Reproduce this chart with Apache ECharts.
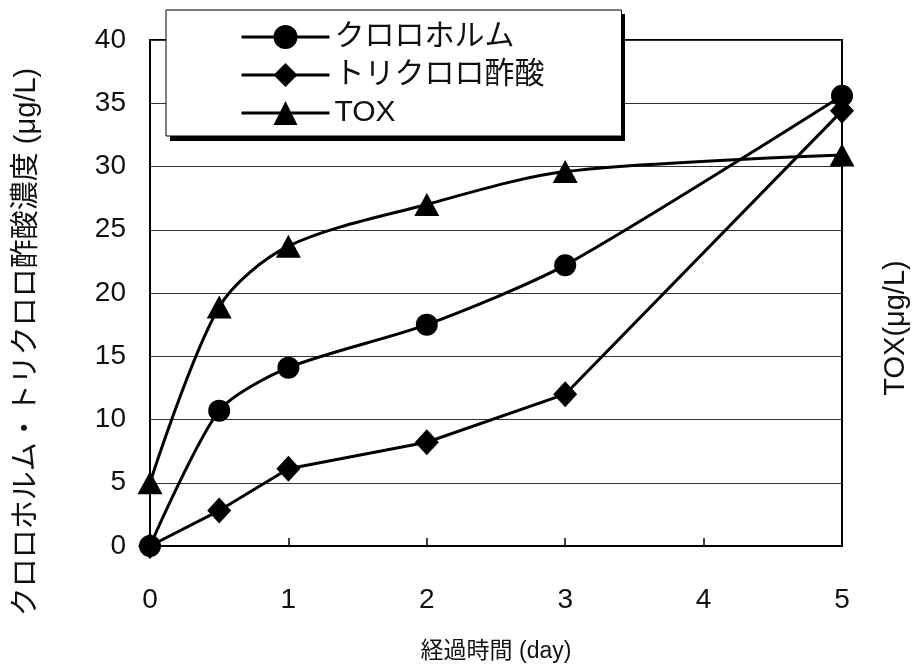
<!DOCTYPE html>
<html><head><meta charset="utf-8">
<script src="https://cdn.jsdelivr.net/npm/echarts@6/dist/echarts.min.js"></script>
<style>html,body{margin:0;padding:0;background:#fff}#c{width:912px;height:667px}</style>
</head><body><div id="c"></div>
<script>
var days = [0, 0.5, 1, 2, 3, 5];
var chloroform = [0, 10.7, 14.1, 17.5, 22.2, 35.6];
var tca = [0, 2.8, 6.1, 8.2, 12.0, 34.4];
var tox = [5.0, 18.9, 23.7, 27.0, 29.6, 30.9];
var seriesNames = ['クロロホルム', 'トリクロロ酢酸', 'TOX'];
var xTitle = '経過時間 (day)';
var yTitle = 'クロロホルム・トリクロロ酢酸濃度 (μg/L)';
var y2Title = 'TOX(μg/L)';

function pairs(ys){ return days.map(function(d,i){ return [d, ys[i]]; }); }
var font = "'Liberation Sans', Arial, 'Noto Sans CJK JP', sans-serif";
var txt = '#111';
var chart = echarts.init(document.getElementById('c'));
chart.setOption({
  animation: false,
  textStyle: { fontFamily: font, color: txt },
  grid: { left: 150, right: 70, top: 40, bottom: 121, outerBoundsMode: 'none', containLabel: false,
          show: true, borderColor: '#000', borderWidth: 2, backgroundColor: 'transparent' },
  graphic: [{
    type: 'rect', z: 3, silent: true,
    shape: { x: 170, y: 14, width: 455, height: 127 },
    style: { fill: '#000' }
  }],
  legend: {
    orient: 'vertical', left: 166, top: 10, z: 4,
    backgroundColor: '#fff', borderColor: '#000', borderWidth: 1,
    padding: [11, 77, 7, 74],
    itemWidth: 88, itemHeight: 30, itemGap: 6,
    lineStyle: { width: 3 },
    textStyle: { fontSize: 30, lineHeight: 32, color: txt, fontFamily: font },
    data: seriesNames
  },
  xAxis: {
    type: 'value', min: 0, max: 5, interval: 1,
    name: xTitle, nameLocation: 'middle', nameGap: 94,
    nameTextStyle: { fontSize: 23, color: txt },
    axisLine: { show: true, lineStyle: { color: '#000', width: 2 } },
    axisTick: { show: true, inside: true, length: 8, lineStyle: { color: '#000', width: 1.5 } },
    axisLabel: { fontSize: 28, color: txt, margin: 40 },
    splitLine: { show: false }
  },
  yAxis: [{
    type: 'value', min: 0, max: 40, interval: 5, position: 'left',
    name: yTitle, nameLocation: 'middle', nameGap: 108, nameRotate: 90,
    nameTextStyle: { fontSize: 29, color: txt, padding: [0, 98, 0, 0] },
    axisLine: { show: true, lineStyle: { color: '#000', width: 2 } },
    axisTick: { show: false },
    axisLabel: { fontSize: 28, color: txt, margin: 24 },
    splitLine: { show: true, lineStyle: { color: '#333', width: 1.2 } }
  }, {
    type: 'value', min: 0, max: 40, interval: 5, position: 'right',
    name: y2Title, nameLocation: 'middle', nameGap: 39, nameRotate: 90,
    nameTextStyle: { fontSize: 29, color: txt, padding: [0, 70, 0, 0] },
    axisLine: { show: true, lineStyle: { color: '#000', width: 2 } },
    axisTick: { show: false }, axisLabel: { show: false }, splitLine: { show: false }
  }],
  series: [{
    name: seriesNames[0], type: 'line', data: pairs(chloroform), smooth: 0.25, clip: false,
    symbol: 'circle', symbolSize: 22,
    lineStyle: { color: '#000', width: 3 }, itemStyle: { color: '#000' }
  }, {
    name: seriesNames[1], type: 'line', data: pairs(tca), clip: false,
    symbol: 'diamond', symbolSize: [24, 26],
    lineStyle: { color: '#000', width: 3 }, itemStyle: { color: '#000' }
  }, {
    name: seriesNames[2], type: 'line', data: pairs(tox), smooth: 0.3, clip: false, yAxisIndex: 1,
    symbol: 'triangle', symbolSize: [25, 23],
    lineStyle: { color: '#000', width: 3 }, itemStyle: { color: '#000' }
  }]
});
</script></body></html>
